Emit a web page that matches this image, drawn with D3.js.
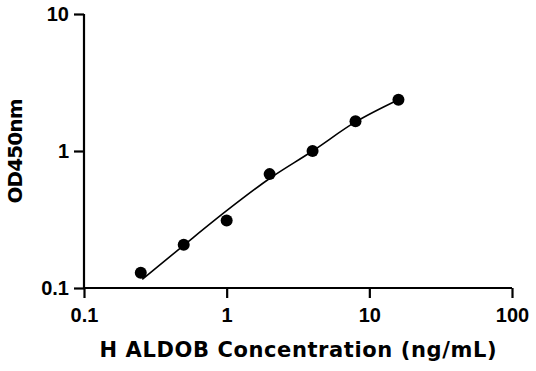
<!DOCTYPE html>
<html>
<head>
<meta charset="utf-8">
<script src="https://cdn.jsdelivr.net/npm/d3@7"></script>
<style>
  body { margin: 0; background: #fff; }
  text { font-family: "DejaVu Sans", sans-serif; font-weight: bold; fill: #000; }
  .tick text { font-family: "Liberation Sans", Arial, sans-serif; }
</style>
</head>
<body>
<div id="chart"></div>
<script>
// measured standards
const concentration = [0.25, 0.5, 1, 2, 4, 8, 16];
const od450 = [0.129, 0.207, 0.311, 0.678, 1.0, 1.65, 2.37];

// fitted curve
const fitX = [0.256, 0.5, 1, 2, 4, 8, 16];
const fitY = [0.1156, 0.205, 0.367, 0.63, 1.0, 1.63, 2.37];

const xTicks = [0.1, 1, 10, 100];
const yTicks = [0.1, 1, 10];

const width = 536, height = 371;
const margin = {left: 84, right: 24, top: 14, bottom: 83};

let svg = d3.select("#chart").append("svg")
    .attr("width", width)
    .attr("height", height);

let x = d3.scaleLog().domain([0.1, 100]).range([margin.left, width - margin.right]);
let y = d3.scaleLog().domain([0.1, 10]).range([height - margin.bottom, margin.top]);

// axes
let xAxis = svg.append("g")
    .attr("transform", `translate(0,${height - margin.bottom})`)
    .call(d3.axisBottom(x).tickValues(xTicks).tickFormat(d => d).tickSize(10).tickPadding(10));
let yAxis = svg.append("g")
    .attr("transform", `translate(${margin.left},0)`)
    .call(d3.axisLeft(y).tickValues(yTicks).tickFormat(d => d).tickSize(10).tickPadding(5));

[xAxis, yAxis].forEach(a => {
    a.select(".domain").attr("stroke", "#000").attr("stroke-width", 2.2);
    a.selectAll(".tick line").attr("stroke", "#000").attr("stroke-width", 2.2);
    a.selectAll(".tick text").style("font-size", "20px").attr("fill", "#000");
});
xAxis.select(".domain").attr("d", `M${x(0.1)},0H${x(100)}`);
yAxis.select(".domain").attr("d", `M0,${y(10)}V${y(0.1)}`);

// fit line
let line = d3.line()
    .x(d => x(d[0]))
    .y(d => y(d[1]))
    .curve(d3.curveMonotoneX);
svg.append("path")
    .datum(fitX.map((v, i) => [v, fitY[i]]))
    .attr("fill", "none")
    .attr("stroke", "#000")
    .attr("stroke-width", 1.6)
    .attr("d", line);

// points
svg.selectAll("circle.pt")
    .data(concentration.map((v, i) => [v, od450[i]]))
    .join("circle")
    .attr("class", "pt")
    .attr("cx", d => x(d[0]))
    .attr("cy", d => y(d[1]))
    .attr("r", 6)
    .attr("fill", "#000");

// titles
svg.append("text")
    .attr("x", (x(0.1) + x(100)) / 2)
    .attr("y", 357)
    .attr("text-anchor", "middle")
    .attr("textLength", 397)
    .attr("lengthAdjust", "spacing")
    .style("font-size", "21px")
    .text("H ALDOB Concentration (ng/mL)");

svg.append("text")
    .attr("transform", `translate(22,${y(1)}) rotate(-90)`)
    .attr("text-anchor", "middle")
    .attr("textLength", 105)
    .attr("lengthAdjust", "spacing")
    .style("font-size", "20px")
    .text("OD450nm");
</script>
</body>
</html>
